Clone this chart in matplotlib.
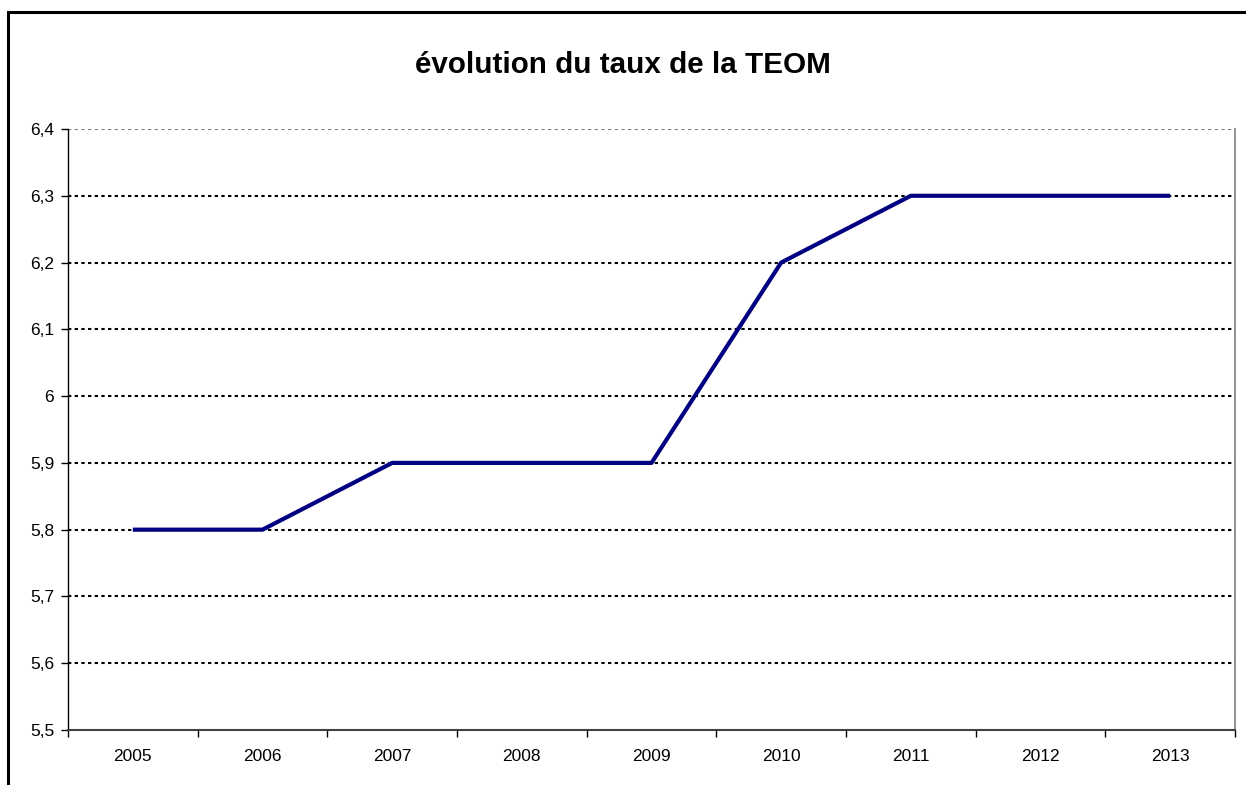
import numpy as np
import matplotlib.pyplot as plt
from matplotlib.patches import Rectangle

plt.rcParams['font.family'] = ['Liberation Sans', 'DejaVu Sans']

years = ["2005", "2006", "2007", "2008", "2009", "2010", "2011", "2012", "2013"]
taux = [5.8, 5.8, 5.9, 5.9, 5.9, 6.2, 6.3, 6.3, 6.3]
y_ticks = [5.5, 5.6, 5.7, 5.8, 5.9, 6.0, 6.1, 6.2, 6.3, 6.4]
y_labels = ["5,5", "5,6", "5,7", "5,8", "5,9", "6", "6,1", "6,2", "6,3", "6,4"]


def main():
    fig = plt.figure(figsize=(12.46, 7.85), dpi=100)
    ax = fig.add_axes([68 / 1246, 1 - 730 / 785, (1235 - 68) / 1246, (730 - 129) / 785])

    # outer chart frame (cut off at the bottom and right, as in the source)
    fig.patches.append(Rectangle((8 / 1246, -0.2), 1.5, 1 - 12 / 785 + 0.2,
                                 transform=fig.transFigure, fill=False,
                                 edgecolor="black", linewidth=2.2))

    x = np.arange(len(years))
    ax.set_xlim(-0.5, len(years) - 0.5)
    ax.set_ylim(5.5, 6.4)

    for v in y_ticks[1:]:
        color = "#808080" if v == 6.4 else "black"
        ax.axhline(v, color=color, linestyle=(0, (1.6, 1.6)), linewidth=1.5, zorder=1)

    ax.plot(x, taux, color="#000080", linewidth=3, solid_joinstyle="round",
            solid_capstyle="butt", zorder=3)

    fig.text(0.5, 1 - 65 / 785, "évolution du taux de la TEOM", fontsize=21.3,
             fontweight="bold", ha="center", va="center")

    ax.set_yticks(y_ticks)
    ax.set_yticklabels(y_labels, fontsize=12.5)
    ax.set_xticks(x)
    ax.set_xticklabels(years, fontsize=12.5)
    ax.set_xticks(np.arange(-0.5, len(years)), minor=True)
    ax.tick_params(axis="x", which="major", length=0, pad=14)
    ax.tick_params(axis="x", which="minor", length=5, width=1, direction="out")
    ax.tick_params(axis="y", length=5, width=1, direction="out", pad=5)

    ax.spines["top"].set_visible(False)
    ax.spines["right"].set_color("#808080")
    ax.spines["right"].set_linewidth(1.2)
    ax.spines["left"].set_color("black")
    ax.spines["left"].set_linewidth(1.0)
    ax.spines["bottom"].set_color("#404040")
    ax.spines["bottom"].set_linewidth(1.5)

    fig.savefig("out.png", dpi=100)
    plt.close(fig)


if __name__ == "__main__":
    main()
